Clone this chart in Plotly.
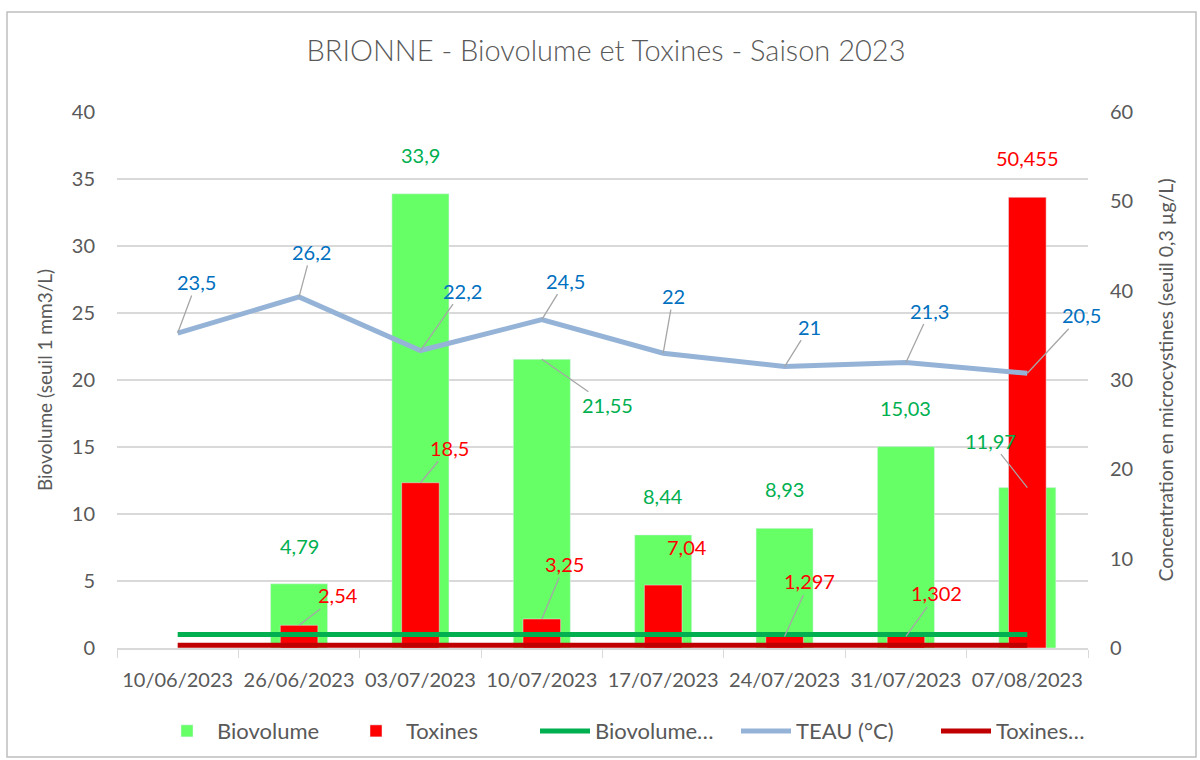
import plotly.graph_objects as go

# ---- data ----
dates = ["10/06/2023", "26/06/2023", "03/07/2023", "10/07/2023",
         "17/07/2023", "24/07/2023", "31/07/2023", "07/08/2023"]
biovolume = [None, 4.79, 33.9, 21.55, 8.44, 8.93, 15.03, 11.97]
toxines = [None, 2.54, 18.5, 3.25, 7.04, 1.297, 1.302, 50.455]
teau = [23.5, 26.2, 22.2, 24.5, 22, 21, 21.3, 20.5]
seuil_biovolume = [1] * len(dates)
seuil_toxines = [0.3] * len(dates)

# label offsets (px) as moved by hand in the original workbook
teau_off = [(19, -51), (12, -45), (42, -60), (24, -39), (10, -57), (25, -40), (24, -52), (54, -58)]
bio_off = [None, (0, 24, False), (0, 25, False), (66, 46, True), (0, 25, False),
           (0, 25, False), (0, 25, False), (-37, -47, True)]
tox_off = [None, (39, -30, True), (29, -35, True), (23, -55, True), (24, 24, False),
           (25, -55, True), (31, -43, True), (0, 25, False)]

FONT = "Lato"
GREY = "#595959"
GRID = "#D9D9D9"
W, H = 1200, 760
ML, MR, MT, MB = 117, 112, 112, 112


def fmt(v):
    return f"{v:g}".replace(".", ",")


fig = go.Figure()
fig.add_bar(x=dates, y=biovolume, name="Biovolume", marker_color="#66FF66",
            width=0.47, yaxis="y", legend="legend")
fig.add_bar(x=dates, y=toxines, name="Toxines", marker_color="#FF0000",
            width=0.31, yaxis="y2", legend="legend")
fig.add_scatter(x=dates, y=seuil_biovolume, name="Biovolume…", mode="lines",
                line=dict(color="#00B050", width=5), yaxis="y3", legend="legend")
fig.add_scatter(x=dates, y=teau, name="TEAU (°C)", mode="lines",
                line=dict(color="#95B3D7", width=5), yaxis="y3", legend="legend2")
fig.add_scatter(x=dates, y=seuil_toxines, name="Toxines…", mode="lines",
                line=dict(color="#C00000", width=5), yaxis="y2", legend="legend2")

ann = []
lab_font = dict(family=FONT, size=20)
for d, v, (ax, ay) in zip(dates, teau, teau_off):
    ann.append(dict(x=d, y=v, xref="x", yref="y", text=fmt(v), showarrow=True,
                    ax=ax, ay=ay, arrowhead=0, arrowwidth=1.3, arrowcolor="#A6A6A6",
                    standoff=0, font=dict(lab_font, color="#0070C0")))


def add_labels(values, offsets, yref, color):
    for d, v, o in zip(dates, values, offsets):
        if v is None:
            continue
        dx, dy, arrow = o
        if arrow:
            ann.append(dict(x=d, y=v, xref="x", yref=yref, text=fmt(v), showarrow=True,
                            ax=dx, ay=dy, arrowhead=0, arrowwidth=1.3,
                            arrowcolor="#A6A6A6", standoff=0,
                            font=dict(lab_font, color=color)))
        else:
            ann.append(dict(x=d, y=v, xref="x", yref=yref, text=fmt(v), showarrow=False,
                            xshift=dx, yshift=dy, yanchor="bottom",
                            font=dict(lab_font, color=color)))


add_labels(biovolume, bio_off, "y", "#00B050")
add_labels(toxines, tox_off, "y2", "#FF0000")

pw, ph = W - ML - MR, H - MT - MB
border = dict(type="rect", xref="paper", yref="paper",
              x0=(7 - ML) / pw, x1=(1196 - ML) / pw,
              y0=(H - MB - 757) / ph, y1=(H - MB - 12) / ph,
              line=dict(color="#BFBFBF", width=1.5), fillcolor="rgba(0,0,0,0)", layer="below")

leg_common = dict(orientation="h", xanchor="left", y=-0.155, yanchor="middle",
                  itemwidth=50, font=dict(size=22, color=GREY), bgcolor="rgba(0,0,0,0)")

fig.update_layout(
    width=W, height=H,
    margin=dict(l=ML, r=MR, t=MT, b=MB, autoexpand=False),
    paper_bgcolor="white", plot_bgcolor="white",
    barmode="overlay",
    font=dict(family=FONT, color=GREY, size=20),
    title=dict(text="BRIONNE - Biovolume et Toxines - Saison 2023", x=0.505, xanchor="center",
               y=0.933, yanchor="middle",
               font=dict(family=FONT, size=29, color=GREY, weight=300)),
    xaxis=dict(type="category", range=[-0.5, 7.5], showgrid=False,
               showline=True, linecolor=GRID, linewidth=1.5,
               ticks="outside", tickson="boundaries", ticklen=8, tickcolor=GRID,
               ticklabelstandoff=13,
               tickfont=dict(size=20, color=GREY)),
    yaxis=dict(range=[0, 40], dtick=5, showgrid=True, gridcolor=GRID, gridwidth=1.5,
               zeroline=False, tickfont=dict(size=20, color=GREY), ticklabelstandoff=21,
               title=dict(text="Biovolume (seuil 1 mm3/L)", standoff=14,
                          font=dict(size=19, color=GREY))),
    yaxis2=dict(range=[0, 60], dtick=10, overlaying="y", side="right", showgrid=False,
                zeroline=False, tickfont=dict(size=20, color=GREY), ticklabelstandoff=21,
                title=dict(text="Concentration en microcystines (seuil 0,3 µg/L)", standoff=27,
                           font=dict(size=19.5, color=GREY))),
    yaxis3=dict(range=[0, 40], overlaying="y", visible=False),
    legend=dict(leg_common, x=(157 - ML) / pw, entrywidth=124),
    legend2=dict(leg_common, x=(736 - ML) / pw, entrywidth=135),
    annotations=ann,
    shapes=[border],
    showlegend=True,
)

# the page body has a default 8px margin; drop it so the chart fills the window
fig.write_html("out.html", config={"displayModeBar": False},
               post_script="document.body.style.margin='0';")
